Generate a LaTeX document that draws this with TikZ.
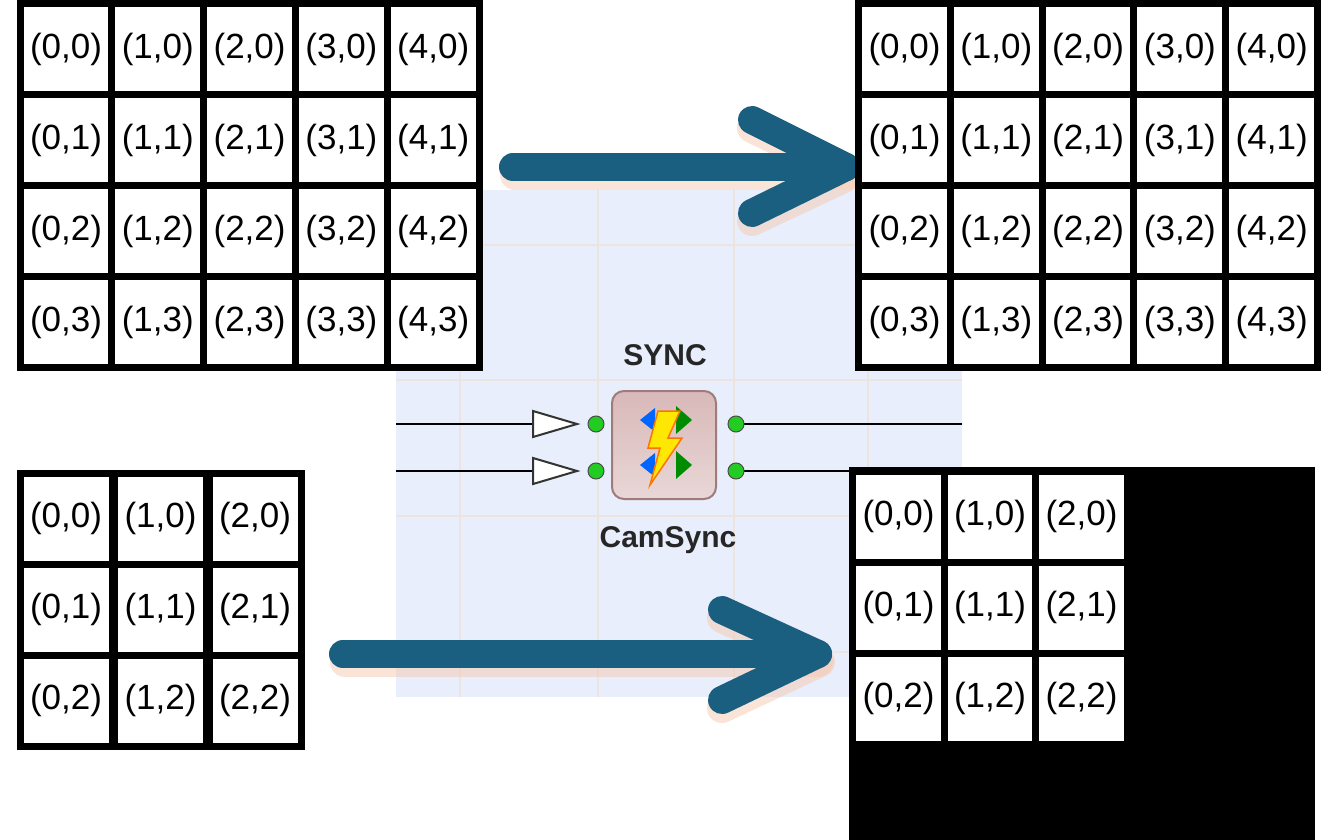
\documentclass[tikz,border=0pt]{standalone}
\usepackage{fontspec}
\setmainfont{Liberation Sans}
\begin{document}
\begin{tikzpicture}[x=1pt,y=-1pt,
  cell/.style={draw=black,line width=7pt,fill=white,minimum width=92pt,minimum height=91pt,inner sep=0pt,font=\fontsize{35}{35}\selectfont},
  bigarrow/.style={draw=arrowblue,line width=28pt,line cap=round,line join=round},
  glow/.style={draw=glowc,line width=30pt,line cap=round,line join=round,opacity=0.5},
  port/.style={circle,fill=portgreen,draw=black!70,line width=1pt,minimum size=16pt,inner sep=0pt},
  wire/.style={draw=black,line width=2.5pt},
  label/.style={font=\bfseries\fontsize{30}{30}\selectfont,text=black!85}]
\definecolor{arrowblue}{HTML}{1A5E80}
\definecolor{glowc}{HTML}{F6C9B0}
\definecolor{bgblue}{HTML}{E8EEFB}
\definecolor{gridc}{HTML}{EDE4E0}
\definecolor{portgreen}{HTML}{22CC22}
\definecolor{iconc}{HTML}{C89A9A}
\useasboundingbox (0,0) rectangle (1339,840);
\fill[white] (0,0) rectangle (1339,840);
% background panel
\fill[bgblue] (396,190) rectangle (962,697);
\foreach \x in {460,598,734,868} \draw[gridc,line width=2pt] (\x,190) -- (\x,697);
\foreach \y in {245,380,516,652} \draw[gridc,line width=2pt] (396,\y) -- (962,\y);
% wires
\draw[wire] (396,424) -- (536,424);
\draw[wire] (396,471) -- (536,471);
\draw[wire] (736,424) -- (962,424);
\draw[wire] (736,471) -- (880,471);
\foreach \y/\n in {424/a,471/b}{
  \draw[black!80,fill=white,line width=2pt] (533,\y-13) -- (577,\y) -- (533,\y+13) -- cycle;
  \node[port] (pin\n) at (596,\y) {};
  \node[port] (pout\n) at (736,\y) {};
}
% icon
\node[draw=iconc!80!black,line width=2pt,rounded corners=12pt,minimum width=104pt,minimum height=108pt,inner sep=0pt,top color=iconc!70,bottom color=iconc!40!white] (icon) at (664,445) {};
\fill[blue!60!cyan] (640,420) -- (655,408) -- (655,432) -- cycle;
\fill[blue!60!cyan] (640,465) -- (655,453) -- (655,477) -- cycle;
\fill[green!55!black] (692,420) -- (676,406) -- (676,434) -- cycle;
\fill[green!55!black] (692,465) -- (676,451) -- (676,479) -- cycle;
\draw[orange!90!red,fill=yellow!90!orange,line width=1.5pt] (658,411) -- (680,411) -- (668,438) -- (682,438) -- (650,485) -- (660,448) -- (648,448) -- cycle;
\node[label] (sync) at (665,355) {SYNC};
\node[label] (cam) at (668,540) {CamSync};
% arrows
\draw[glow] (515,175) -- (848,175);
\draw[glow] (752,128) -- (850,175) -- (752,221);
\draw[bigarrow] (513,167) -- (846,167);
\draw[bigarrow] (752,120) -- (846,167) -- (752,213);
\draw[glow] (345,662) -- (818,662);
\draw[glow] (722,618) -- (820,662) -- (722,708);
\draw[bigarrow] (343,654) -- (818,654);
\draw[bigarrow] (722,610) -- (818,654) -- (722,700);
% bottom-right black area
\fill[black] (849,467) rectangle (1315,840);
% grids
\foreach \c in {0,...,4} \foreach \r in {0,...,3} {
  \node[cell] (tl-\c-\r) at (66+91.8*\c,49+91*\r) {(\c,\r)};
  \node[cell] (tr-\c-\r) at (904.5+91.8*\c,49+91*\r) {(\c,\r)};
}
\foreach \c in {0,...,2} \foreach \r in {0,...,2} {
  \node[cell] (bl-\c-\r) at (66+94.5*\c,518.5+91*\r) {(\c,\r)};
  \node[cell] (br-\c-\r) at (898.5+91.5*\c,516.5+91*\r) {(\c,\r)};
}
\end{tikzpicture}
\end{document}
